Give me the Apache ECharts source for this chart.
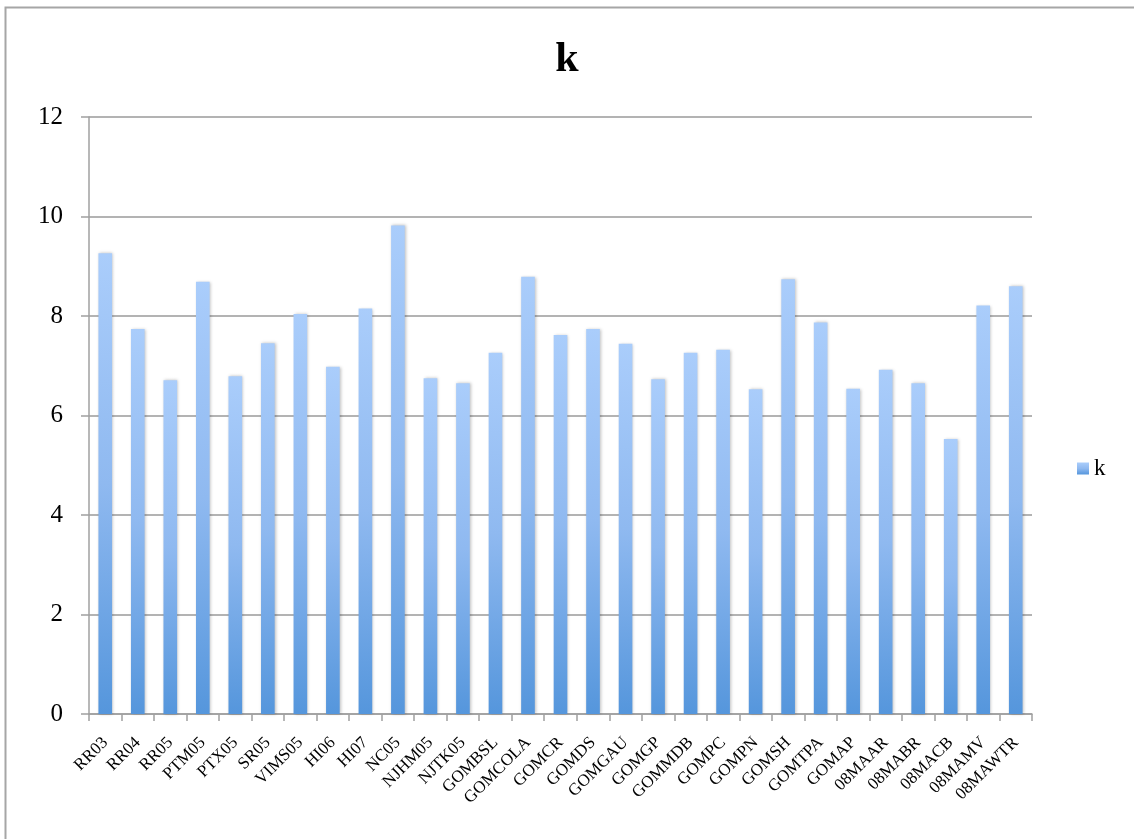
<!DOCTYPE html>
<html>
<head>
<meta charset="utf-8">
<script src="https://cdn.jsdelivr.net/npm/echarts@6/dist/echarts.min.js"></script>
<style>
  html, body { margin: 0; padding: 0; background: #ffffff; }
  #chart { width: 1134px; height: 839px; }
</style>
</head>
<body>
<div id="chart"></div>
<script>
// Sample sites
const categories = [
  'RR03', 'RR04', 'RR05', 'PTM05', 'PTX05', 'SR05', 'VIMS05', 'HI06', 'HI07', 'NC05',
  'NJHM05', 'NJTK05', 'GOMBSL', 'GOMCOLA', 'GOMCR', 'GOMDS', 'GOMGAU', 'GOMGP', 'GOMMDB', 'GOMPC',
  'GOMPN', 'GOMSH', 'GOMTPA', 'GOMAP', '08MAAR', '08MABR', '08MACB', '08MAMV', '08MAWTR'
];
// k per site
const kValues = [
  9.26, 7.74, 6.71, 8.69, 6.79, 7.45, 8.04, 6.98, 8.15, 9.82,
  6.75, 6.65, 7.26, 8.79, 7.62, 7.74, 7.44, 6.73, 7.26, 7.32,
  6.53, 8.74, 7.87, 6.54, 6.92, 6.65, 5.53, 8.21, 8.60
];
const seriesName = 'k';
const yTicks = { min: 0, max: 12, interval: 2 };

const serif = '"Liberation Serif", "DejaVu Serif", serif';
const chart = echarts.init(document.getElementById('chart'));

const barFill = new echarts.graphic.LinearGradient(0, 0, 0, 1, [
  { offset: 0, color: '#aacdfb' },
  { offset: 0.5, color: '#8fb9f0' },
  { offset: 1, color: '#5596dc' }
]);

chart.setOption({
  backgroundColor: '#ffffff',
  animation: false,
  graphic: [{
    type: 'rect',
    left: 3, top: 5,
    shape: { width: 1150, height: 860 },
    style: { fill: 'none', stroke: '#a6a6a6', lineWidth: 2 },
    silent: true
  }],
  title: {
    text: seriesName,
    left: 'center',
    top: 34,
    textStyle: { fontFamily: serif, fontSize: 42, fontWeight: 'bold', color: '#000' }
  },
  legend: {
    data: [seriesName],
    orient: 'vertical',
    left: 1072,
    top: 452,
    itemWidth: 12,
    itemHeight: 12,
    itemGap: 6,
    icon: 'rect',
    textStyle: { fontFamily: serif, fontSize: 23, color: '#000' }
  },
  grid: { left: 89, right: 102, top: 117, bottom: 125, containLabel: false },
  xAxis: {
    type: 'category',
    data: categories,
    boundaryGap: true,
    axisLine: { lineStyle: { color: '#a0a0a0', width: 1.5 } },
    axisTick: { show: true, alignWithLabel: false, length: 7, lineStyle: { color: '#a0a0a0', width: 1.5 } },
    axisLabel: {
      interval: 0,
      rotate: 45,
      margin: 26,
      fontFamily: serif,
      fontSize: 17,
      color: '#000'
    }
  },
  yAxis: {
    type: 'value',
    min: yTicks.min,
    max: yTicks.max,
    interval: yTicks.interval,
    axisLine: { show: true, lineStyle: { color: '#a0a0a0', width: 1.5 } },
    axisTick: { show: true, length: 8, lineStyle: { color: '#a0a0a0', width: 1.5 } },
    axisLabel: { fontFamily: serif, fontSize: 25, color: '#000', margin: 26 },
    splitLine: { show: true, lineStyle: { color: '#9a9a9a', width: 1.5 } }
  },
  series: [{
    name: seriesName,
    type: 'bar',
    data: kValues,
    barWidth: '42%',
    itemStyle: {
      color: barFill,
      shadowColor: 'rgba(0,0,0,0.25)',
      shadowBlur: 3,
      shadowOffsetX: 1,
      shadowOffsetY: 0
    }
  }]
});
</script>
</body>
</html>
